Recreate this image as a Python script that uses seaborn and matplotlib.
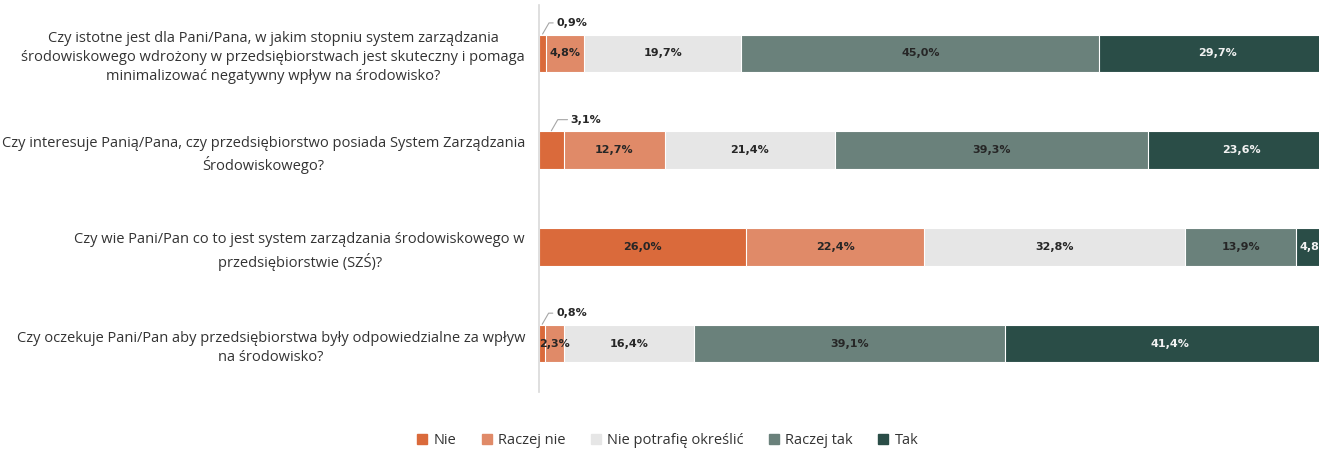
import numpy as np
import pandas as pd
import matplotlib.pyplot as plt
import seaborn as sns
from matplotlib.lines import Line2D

# data
questions = [
    "Czy istotne jest dla Pani/Pana, w jakim stopniu system zarządzania\n"
    "środowiskowego wdrożony w przedsiębiorstwach jest skuteczny i pomaga\n"
    "minimalizować negatywny wpływ na środowisko?",
    "Czy interesuje Panią/Pana, czy przedsiębiorstwo posiada System Zarządzania\n"
    "Środowiskowego?",
    "Czy wie Pani/Pan co to jest system zarządzania środowiskowego w\n"
    "przedsiębiorstwie (SZŚ)?",
    "Czy oczekuje Pani/Pan aby przedsiębiorstwa były odpowiedzialne za wpływ\n"
    "na środowisko?",
]
answers = ["Nie", "Raczej nie", "Nie potrafię określić", "Raczej tak", "Tak"]
nie = [0.9, 3.1, 26.0, 0.8]
raczej_nie = [4.8, 12.7, 22.4, 2.3]
nie_wiem = [19.7, 21.4, 32.8, 16.4]
raczej_tak = [45.0, 39.3, 13.9, 39.1]
tak = [29.7, 23.6, 4.8, 41.4]

colors = ["#DA6A3B", "#E08A68", "#E6E6E6", "#6A817B", "#2A4D47"]
text_colors = ["#262626", "#262626", "#262626", "#262626", "#F2F2F2"]

values = np.array([nie, raczej_nie, nie_wiem, raczej_tak, tak])
cum = values.cumsum(axis=0)

sns.set_style("white")
plt.rcParams['font.family'] = ['Open Sans', 'DejaVu Sans']

fig = plt.figure(figsize=(13.19, 4.5), dpi=100)
ax = fig.add_axes([539 / 1319, 58 / 450, 796 / 1319, 387 / 450])

# stacked bars: draw cumulative totals from largest down
for i in range(len(answers) - 1, -1, -1):
    df = pd.DataFrame({"q": questions, "v": cum[i]})
    sns.barplot(data=df, x="v", y="q", orient="h", color=colors[i],
                width=0.39, edgecolor="white", linewidth=0.8,
                saturation=1, ax=ax)

ax.set_xlim(0, 100)
ax.set_ylim(3.5, -0.5)
ax.set_xlabel("")
ax.set_ylabel("")
ax.set_xticks([])
ax.set_yticks(range(len(questions)))
ax.set_yticklabels(questions, fontsize=10.5, color="#333333",
                   multialignment="center", linespacing=1.4)
ax.tick_params(axis="y", length=0, pad=10)
for s in ["top", "right", "bottom"]:
    ax.spines[s].set_visible(False)
ax.spines["left"].set_color("#D9D9D9")
ax.spines["left"].set_linewidth(1.2)

# value labels
leader = dict(arrowstyle="-", color="#A6A6A6", lw=0.8, shrinkA=0, shrinkB=0,
              connectionstyle="angle,angleA=0,angleB=60,rad=0")
for i in range(len(answers)):
    for j in range(len(questions)):
        v = values[i, j]
        center = cum[i, j] - v / 2
        label = f"{v:.1f}%".replace(".", ",")
        if i == 0 and v < 5:
            dx = 10 if v < 2 else 14
            ax.annotate(label, xy=(center, j - 0.2), xytext=(dx, 8),
                        textcoords="offset points", ha="left", va="center",
                        fontsize=8, fontweight="bold", family="DejaVu Sans",
                        color="#262626", arrowprops=leader)
        else:
            ax.text(center, j, label, ha="center", va="center",
                    fontsize=8, fontweight="bold", family="DejaVu Sans",
                    color=text_colors[i], clip_on=False)

handles = [Line2D([0], [0], marker="s", linestyle="", markersize=6.5,
                  markerfacecolor=c, markeredgecolor=c) for c in colors]
fig.legend(handles, answers, loc="center", bbox_to_anchor=(0.506, 0.02),
           ncol=5, frameon=False, fontsize=10.5, handlelength=0.8,
           handletextpad=0.4, columnspacing=1.65, labelcolor="#333333")

fig.savefig("out.png", dpi=100)
